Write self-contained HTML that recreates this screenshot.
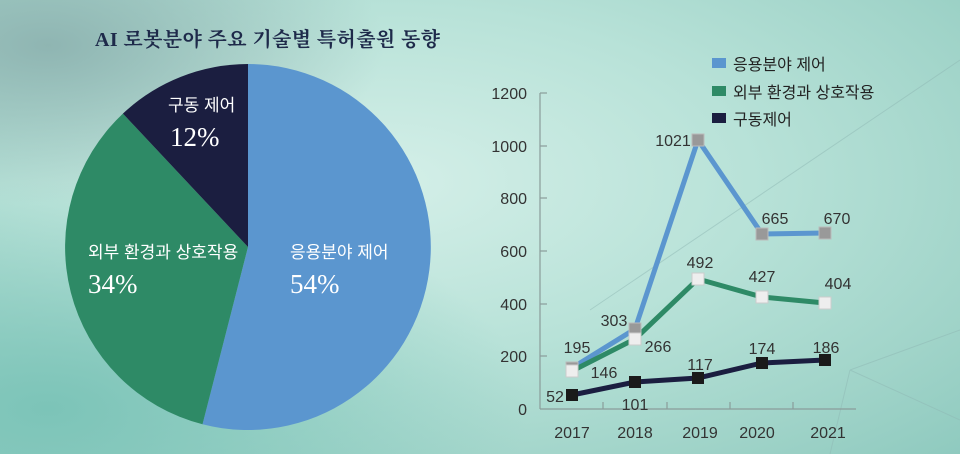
<!DOCTYPE html>
<html><head><meta charset="utf-8"><style>
html,body{margin:0;padding:0}
body{width:960px;height:454px;overflow:hidden;background:radial-gradient(ellipse at 40% 40%,#d4efe8 0%,#b8e2d8 45%,#9fd3c8 80%,#8fcabf 100%);font-family:"Liberation Sans","Noto Sans CJK KR",sans-serif}
</style></head><body>
<svg width="960" height="454" viewBox="0 0 960 454" style="position:absolute;left:0;top:0">
<defs>
<radialGradient id="g1" cx="0.05" cy="0.9" r="0.5"><stop offset="0" stop-color="#7cc4b8"/><stop offset="1" stop-color="#7cc4b8" stop-opacity="0"/></radialGradient>
<radialGradient id="g2" cx="0.05" cy="0.1" r="0.35"><stop offset="0" stop-color="#8fb5b2"/><stop offset="1" stop-color="#8fb5b2" stop-opacity="0"/></radialGradient>
</defs>
<rect width="960" height="454" fill="url(#g1)"/>
<rect width="960" height="454" fill="url(#g2)"/>
<g stroke="#8fb8b4" stroke-width="1" opacity="0.5">
<line x1="590" y1="310" x2="960" y2="60"/><line x1="850" y1="370" x2="960" y2="420"/><line x1="850" y1="370" x2="960" y2="330"/><line x1="850" y1="370" x2="830" y2="454"/>
</g>
<text x="95" y="46" font-family="'Liberation Serif','Noto Serif CJK SC',serif" font-weight="bold" font-size="20" fill="#1e2a4a" textLength="345">AI 로봇분야 주요 기술별 특허출원 동향</text>
<path d="M248,247 L248,64 A183,183 0 1,1 202.5,424.3 Z" fill="#5b96cf"/>
<path d="M248,247 L202.5,424.3 A183,183 0 0,1 122.9,113.6 Z" fill="#2e8a66"/>
<path d="M248,247 L122.9,113.6 A183,183 0 0,1 248,64 Z" fill="#1b1e40"/>
<g fill="#fff">
<text x="290" y="258" font-size="17">응용분야 제어</text>
<text x="290" y="293" font-size="27" font-family="'Liberation Serif',serif">54%</text>
<text x="88" y="258" font-size="17">외부 환경과 상호작용</text>
<text x="88" y="293" font-size="27" font-family="'Liberation Serif',serif">34%</text>
<text x="168" y="111" font-size="17">구동 제어</text>
<text x="170" y="146" font-size="27" font-family="'Liberation Serif',serif">12%</text>
</g>
<g stroke="#8a9c9a" stroke-width="1.2" fill="none">
<line x1="540" y1="93" x2="540" y2="409"/><line x1="540" y1="409" x2="856" y2="409"/>
<line x1="540" y1="93" x2="547" y2="93"/><line x1="540" y1="146" x2="547" y2="146"/><line x1="540" y1="198" x2="547" y2="198"/><line x1="540" y1="251" x2="547" y2="251"/><line x1="540" y1="304" x2="547" y2="304"/><line x1="540" y1="356" x2="547" y2="356"/>
<line x1="603" y1="409" x2="603" y2="402"/><line x1="667" y1="409" x2="667" y2="402"/><line x1="730" y1="409" x2="730" y2="402"/><line x1="793" y1="409" x2="793" y2="402"/>
</g>
<g font-size="16" fill="#333" text-anchor="end">
<text x="527" y="99">1200</text><text x="527" y="152">1000</text><text x="527" y="204">800</text><text x="527" y="257">600</text><text x="527" y="310">400</text><text x="527" y="362">200</text><text x="527" y="415">0</text>
</g>
<g font-size="16" fill="#333" text-anchor="middle">
<text x="572" y="438">2017</text><text x="635" y="438">2018</text><text x="700" y="438">2019</text><text x="757" y="438">2020</text><text x="828" y="438">2021</text>
</g>
<polyline points="572,368 635,329 698,140 762,234 825,233" fill="none" stroke="#5b96cf" stroke-width="5"/>
<polyline points="572,371 635,339 698,279 762,297 825,303" fill="none" stroke="#2e8a66" stroke-width="5"/>
<polyline points="572,395 635,382 698,378 762,363 825,360" fill="none" stroke="#1b1e40" stroke-width="5"/>
<g fill="#999" stroke="#bbb" stroke-width="1">
<rect x="566" y="362" width="12" height="12"/><rect x="629" y="323" width="12" height="12"/><rect x="692" y="134" width="12" height="12"/><rect x="756" y="228" width="12" height="12"/><rect x="819" y="227" width="12" height="12"/>
</g>
<g fill="#eee" stroke="#ccc" stroke-width="1">
<rect x="566" y="365" width="12" height="12"/><rect x="629" y="333" width="12" height="12"/><rect x="692" y="273" width="12" height="12"/><rect x="756" y="291" width="12" height="12"/><rect x="819" y="297" width="12" height="12"/>
</g>
<g fill="#1a1a1a">
<rect x="566" y="389" width="12" height="12"/><rect x="629" y="376" width="12" height="12"/><rect x="692" y="372" width="12" height="12"/><rect x="756" y="357" width="12" height="12"/><rect x="819" y="354" width="12" height="12"/>
</g>
<g font-size="16" fill="#333" text-anchor="middle">
<text x="577" y="353">195</text><text x="614" y="326">303</text><text x="673" y="146">1021</text><text x="775" y="224">665</text><text x="837" y="224">670</text>
<text x="604" y="378">146</text><text x="658" y="352">266</text><text x="700" y="268">492</text><text x="762" y="282">427</text><text x="838" y="289">404</text>
<text x="555" y="402">52</text><text x="635" y="410">101</text><text x="700" y="370">117</text><text x="762" y="354">174</text><text x="826" y="353">186</text>
</g>
<rect x="712" y="58" width="14" height="10" fill="#5b96cf"/><text x="733" y="70" font-size="16" fill="#222">응용분야 제어</text>
<rect x="712" y="86" width="14" height="10" fill="#2e8a66"/><text x="733" y="98" font-size="16" fill="#222">외부 환경과 상호작용</text>
<rect x="712" y="113" width="14" height="10" fill="#1b1e40"/><text x="733" y="125" font-size="16" fill="#222">구동제어</text>
</svg>
</body></html>
